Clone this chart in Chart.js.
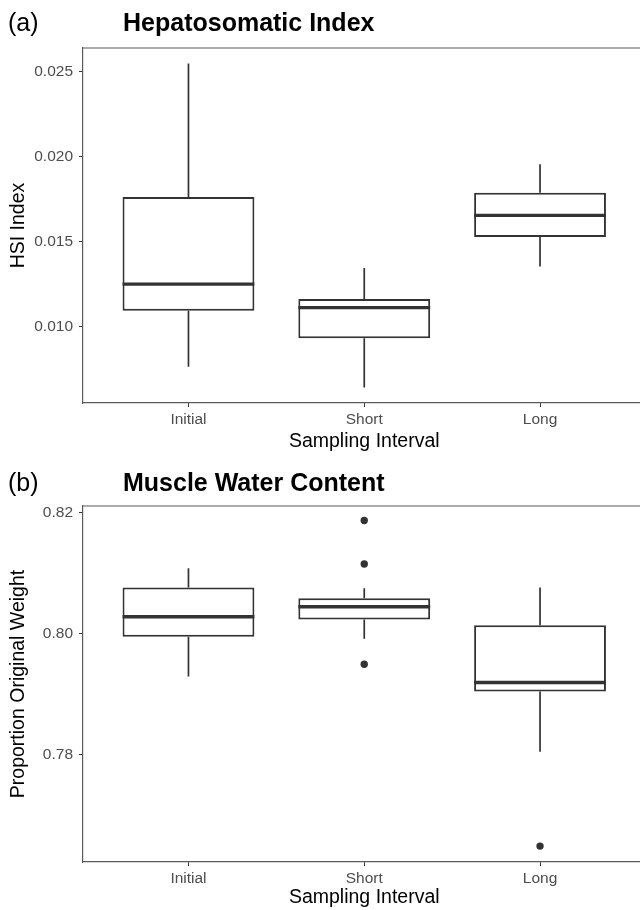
<!DOCTYPE html>
<html>
<head>
<meta charset="utf-8">
<script src="https://cdn.jsdelivr.net/npm/chart.js@4"></script>
<style>
  body { margin: 0; width: 640px; height: 910px; overflow: hidden; background: #fff; font-family: 'Liberation Sans', Arial, sans-serif; }
  .panel { position: absolute; left: 0; width: 650px; height: 455px; }
  .tag, .ttl { position: absolute; font-size: 25px; line-height: 25px; color: #000; white-space: nowrap; }
  .ttl { font-weight: bold; }
</style>
</head>
<body>
<div class="panel" style="top:0"><canvas id="chart_hsi" width="650" height="455"></canvas></div>
<div class="panel" style="top:455px"><canvas id="chart_mwc" width="650" height="455"></canvas></div>
<div class="tag" style="left:8px;top:10px">(a)</div>
<div class="ttl" style="left:123px;top:10px">Hepatosomatic Index</div>
<div class="tag" style="left:8px;top:470px">(b)</div>
<div class="ttl" style="left:123px;top:470px">Muscle Water Content</div>
<script>
// categories (x axis)
const categories = ['Initial', 'Short', 'Long'];

// (a) hepatosomatic index - box stats per category
const hsiMin = [0.00764, 0.00642, 0.01354];
const hsiQ1 = [0.01093, 0.00932, 0.01528];
const hsiMed = [0.01250, 0.01112, 0.01655];
const hsiQ3 = [0.01764, 0.01162, 0.01789];
const hsiMax = [0.02550, 0.01345, 0.01956];
const hsiTicks = [0.010, 0.015, 0.020, 0.025];

// (b) muscle water content
const mwcMin = [0.79290, 0.79912, 0.78043];
const mwcQ1 = [0.79945, 0.80233, 0.79040];
const mwcMed = [0.80278, 0.80444, 0.79190];
const mwcQ3 = [0.80760, 0.80582, 0.80138];
const mwcMax = [0.81080, 0.80748, 0.80760];
const mwcOutCat = ['Short', 'Short', 'Short', 'Long'];
const mwcOutVal = [0.81870, 0.81150, 0.79490, 0.76480];
const mwcTicks = [0.78, 0.80, 0.82];

const FONT = "'Liberation Sans', Arial, sans-serif";
const BOX_W = 0.75;

// whiskers behind the boxes, medians + top frame on top
const boxPlugin = {
    id: 'boxParts',
    beforeDatasetsDraw(chart) {
        const st = chart.options.plugins.boxParts;
        const x = chart.scales.x, y = chart.scales.y;
        const ctx = chart.ctx;
        ctx.save();
        ctx.strokeStyle = '#333333';
        ctx.lineWidth = 1.7;
        st.min.forEach((v, i) => {
            const px = x.getPixelForValue(i + 1);
            ctx.beginPath();
            ctx.moveTo(px, y.getPixelForValue(st.max[i]));
            ctx.lineTo(px, y.getPixelForValue(st.q3[i]));
            ctx.moveTo(px, y.getPixelForValue(st.q1[i]));
            ctx.lineTo(px, y.getPixelForValue(v));
            ctx.stroke();
        });
        ctx.restore();
    },
    afterDatasetsDraw(chart) {
        const st = chart.options.plugins.boxParts;
        const x = chart.scales.x, y = chart.scales.y;
        const ctx = chart.ctx;
        ctx.save();
        ctx.strokeStyle = '#333333';
        ctx.lineWidth = 3.4;
        st.med.forEach((v, i) => {
            const py = y.getPixelForValue(v);
            ctx.beginPath();
            ctx.moveTo(x.getPixelForValue(i + 1 - BOX_W / 2), py);
            ctx.lineTo(x.getPixelForValue(i + 1 + BOX_W / 2), py);
            ctx.stroke();
        });
        // panel border (top edge)
        const a = chart.chartArea;
        ctx.strokeStyle = '#5a5a5a';
        ctx.lineWidth = 1.2;
        ctx.beginPath();
        ctx.moveTo(a.left, a.top);
        ctx.lineTo(a.right, a.top);
        ctx.stroke();
        ctx.restore();
    }
};

function makeBoxChart(id, stats, outliers, yMin, yMax, yTicks, decimals, yTitle, padTop, xHeight, xTitlePad) {
    const boxes = categories.map((c, i) => ({ x: i + 1, y: [stats.q1[i], stats.q3[i]] }));
    const outPts = outliers.cat.map((c, i) => ({ x: categories.indexOf(c) + 1, y: outliers.val[i] }));

    new Chart(document.getElementById(id), {
        data: {
            datasets: [{
                type: 'bar',
                data: boxes,
                backgroundColor: '#ffffff',
                borderColor: '#333333',
                borderWidth: 2,
                borderSkipped: false,
                barPercentage: BOX_W,
                categoryPercentage: 1,
            }, {
                type: 'scatter',
                data: outPts,
                pointRadius: 3.7,
                backgroundColor: '#333333',
                borderWidth: 0,
            }]
        },
        options: {
            responsive: false,
            animation: false,
            layout: { padding: { top: padTop, right: 4.5, left: 0, bottom: 0 } },
            plugins: {
                legend: { display: false },
                tooltip: { enabled: false },
                boxParts: stats,
            },
            scales: {
                x: {
                    type: 'linear',
                    min: 0.4,
                    max: 3.6,
                    offset: false,
                    afterBuildTicks: (s) => { s.ticks = categories.map((c, i) => ({ value: i + 1 })); },
                    afterFit: (s) => { s.height = xHeight; },
                    grid: { offset: false, drawOnChartArea: false, drawTicks: true, tickLength: 4, color: '#333333' },
                    border: { display: true, color: '#5a5a5a', width: 1.2 },
                    ticks: {
                        padding: 3,
                        color: '#4d4d4d',
                        font: { family: FONT, size: 15.5 },
                        callback: (v) => categories[v - 1],
                    },
                    title: {
                        display: true,
                        text: 'Sampling Interval',
                        color: '#000000',
                        font: { family: FONT, size: 19.5 },
                        padding: { top: 0, bottom: xTitlePad },
                    },
                },
                y: {
                    type: 'linear',
                    min: yMin,
                    max: yMax,
                    afterBuildTicks: (s) => { s.ticks = yTicks.map(v => ({ value: v })); },
                    afterFit: (s) => { s.width = 83; },
                    grid: { drawOnChartArea: false, drawTicks: true, tickLength: 4, color: '#333333' },
                    border: { display: true, color: '#5a5a5a', width: 1.2 },
                    ticks: {
                        padding: 6,
                        color: '#4d4d4d',
                        font: { family: FONT, size: 15.5 },
                        callback: (v) => Number(v).toFixed(decimals),
                    },
                    title: {
                        display: true,
                        text: yTitle,
                        color: '#000000',
                        font: { family: FONT, size: 19.5 },
                        padding: { top: 7, bottom: 0 },
                    },
                },
            },
        },
        plugins: [boxPlugin],
    });
}

makeBoxChart('chart_hsi',
    { min: hsiMin, q1: hsiQ1, med: hsiMed, q3: hsiQ3, max: hsiMax },
    { cat: [], val: [] },
    0.0055, 0.02641, hsiTicks, 3, 'HSI Index', 48, 52, 2);

makeBoxChart('chart_mwc',
    { min: mwcMin, q1: mwcQ1, med: mwcMed, q3: mwcQ3, max: mwcMax },
    { cat: mwcOutCat, val: mwcOutVal },
    0.76217, 0.82111, mwcTicks, 2, 'Proportion Original Weight', 51, 48, 1);
</script>
</body>
</html>
